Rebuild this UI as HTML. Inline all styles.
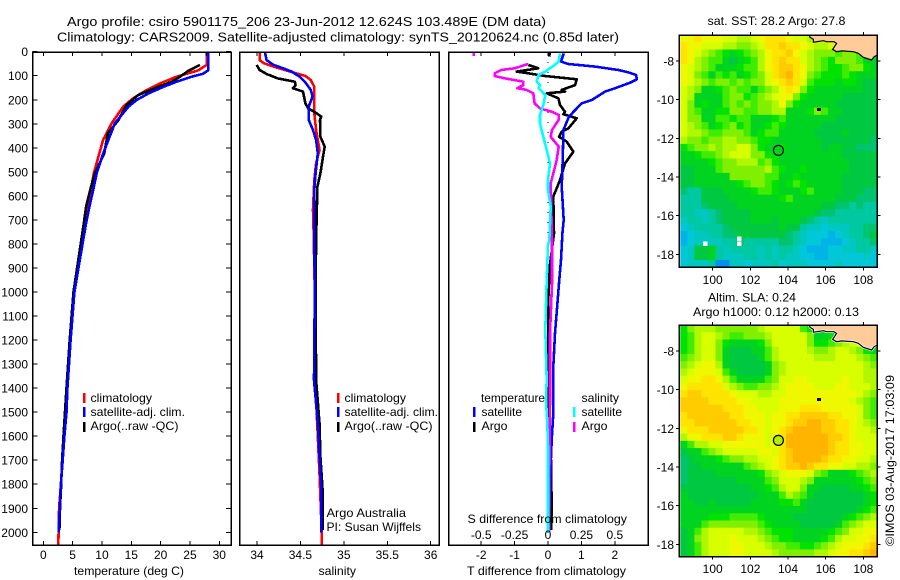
<!DOCTYPE html>
<html>
<head>
<meta charset="utf-8">
<title>Argo profile chart</title>
<style>
html,body{margin:0;padding:0;background:#fff;width:900px;height:580px;overflow:hidden}
svg{display:block}
text{font-family:"Liberation Sans",sans-serif;font-size:12px;fill:#000}
</style>
</head>
<body>
<svg id="chart" xmlns="http://www.w3.org/2000/svg" width="900" height="580" viewBox="0 0 900 580">
  <rect x="0" y="0" width="900" height="580" fill="#fff"/>
  <text x="67" y="26" textLength="479" lengthAdjust="spacingAndGlyphs" style="font-size:13px">Argo profile: csiro 5901175_206 23-Jun-2012 12.624S 103.489E (DM data)</text>
  <text x="57" y="41.5" textLength="562" lengthAdjust="spacingAndGlyphs" style="font-size:13px">Climatology: CARS2009. Satellite-adjusted climatology: synTS_20120624.nc (0.85d later)</text>

  <g id="mapA"></g>
  <g id="mapB"></g>
  <g id="p1"></g>
  <g id="p2"></g>
  <g id="p3"></g>

  <text x="74" y="575" textLength="110" lengthAdjust="spacingAndGlyphs">temperature (deg C)</text>
  <text x="318.5" y="575" textLength="37.5" lengthAdjust="spacingAndGlyphs">salinity</text>
  <text x="467" y="575" textLength="159" lengthAdjust="spacingAndGlyphs">T difference from climatology</text>
  <text x="467.5" y="523" textLength="159.5" lengthAdjust="spacingAndGlyphs">S difference from climatology</text>

  <g>
    <rect x="83" y="393" width="2.5" height="10" fill="#f00"/>
    <text x="90.5" y="402" textLength="61.5" lengthAdjust="spacingAndGlyphs">climatology</text>
    <rect x="83" y="407" width="2.5" height="10" fill="#00f"/>
    <text x="90.5" y="416" textLength="94.5" lengthAdjust="spacingAndGlyphs">satellite-adj. clim.</text>
    <rect x="83" y="422" width="2.5" height="10" fill="#000"/>
    <text x="90.5" y="430" textLength="88" lengthAdjust="spacingAndGlyphs">Argo(..raw -QC)</text>
  </g>
  <g>
    <rect x="337" y="393" width="2.5" height="10" fill="#f00"/>
    <text x="344.5" y="402" textLength="61.5" lengthAdjust="spacingAndGlyphs">climatology</text>
    <rect x="337" y="407" width="2.5" height="10" fill="#00f"/>
    <text x="344.5" y="416" textLength="93.5" lengthAdjust="spacingAndGlyphs">satellite-adj. clim.</text>
    <rect x="337" y="422" width="2.5" height="10" fill="#000"/>
    <text x="344.5" y="430" textLength="88" lengthAdjust="spacingAndGlyphs">Argo(..raw -QC)</text>
    <text x="326.5" y="517" textLength="79.5" lengthAdjust="spacingAndGlyphs">Argo Australia</text>
    <text x="326.5" y="531" textLength="94.5" lengthAdjust="spacingAndGlyphs">PI: Susan Wijffels</text>
  </g>
  <g>
    <text x="481" y="402" textLength="64" lengthAdjust="spacingAndGlyphs">temperature</text>
    <rect x="473" y="407" width="2.5" height="10" fill="#00f"/>
    <text x="481.5" y="416" textLength="40.5" lengthAdjust="spacingAndGlyphs">satellite</text>
    <rect x="473" y="422" width="2.5" height="10" fill="#000"/>
    <text x="481.5" y="430" textLength="26" lengthAdjust="spacingAndGlyphs">Argo</text>
    <text x="581.5" y="402" textLength="37.5" lengthAdjust="spacingAndGlyphs">salinity</text>
    <rect x="573" y="407" width="2.5" height="10" fill="#0ff"/>
    <text x="581.5" y="416" textLength="40.5" lengthAdjust="spacingAndGlyphs">satellite</text>
    <rect x="573" y="422" width="2.5" height="10" fill="#f0f"/>
    <text x="581.5" y="430" textLength="26" lengthAdjust="spacingAndGlyphs">Argo</text>
  </g>

  <text x="707.5" y="25" textLength="138" lengthAdjust="spacingAndGlyphs">sat. SST: 28.2 Argo: 27.8</text>
  <text x="708" y="301.5" textLength="88" lengthAdjust="spacingAndGlyphs">Altim. SLA: 0.24</text>
  <text x="693" y="316" textLength="166" lengthAdjust="spacingAndGlyphs">Argo h1000: 0.12 h2000: 0.13</text>
  <text transform="translate(894,546) rotate(-90)" x="0" y="0" textLength="171" lengthAdjust="spacingAndGlyphs">©IMOS 03-Aug-2017 17:03:09</text>
</svg>
<script>
// ---- tick values ----
const depthTicks = [0,100,200,300,400,500,600,700,800,900,1000,1100,1200,1300,1400,1500,1600,1700,1800,1900,2000];
const tempTicks = [0,5,10,15,20,25,30];
const salTicks = [34,34.5,35,35.5,36];
const salTickLabels = ["34","34.5","35","35.5","36"];
const diffTTicks = [-2,-1,0,1,2];
const diffSTicks = [-0.5,-0.25,0,0.25,0.5];
const diffSTickLabels = ["-0.5","-0.25","0","0.25","0.5"];
const lonTicks = [100,102,104,106,108];
const latTicks = [-8,-10,-12,-14,-16,-18];

// ---- temperature profiles ----
const tempClimDepth = [0,55,78,104,132,160,194,229,298,367,437,506,575,645,714,783,1000,1200,1400,1500,1600,1700,1800,1900,2000,2053];
const tempClimVal = [27.85,27.85,26.4,22.7,19.9,17.6,15.3,13.6,11.65,10.2,9.4,8.6,8.1,7.5,7.0,6.6,5.2,4.55,4.0,3.85,3.6,3.25,3.0,2.7,2.6,2.55];
const tempSatDepth = [0,78,92,104,125,146,174,201,229,298,367,437,506,575,645,714,783,1000,1200,1400,1500,1600,1700,1800,1900,2000];
const tempSatVal = [28.1,28.1,27.2,25.3,22.7,20.5,17.9,15.9,14.5,12.2,11.1,10,9.1,8.5,7.85,7.3,6.8,5.3,4.65,4.1,3.95,3.6,3.3,3.0,2.8,2.6];
const tempArgoDepth = [4,18,null,55,80,94,104,125,139,160,180,222,257,285,340,423,506,575,645,714,1000,1200,1400,1500,1600,1700,1800,1900,1990];
const tempArgoVal = [27.9,27.9,null,26.7,24.7,23.9,23.3,21.9,20.4,18.2,16.2,14.2,13.4,12.8,11.0,10.4,8.8,8,7.3,6.9,5.15,4.5,3.95,3.7,3.45,3.2,3.05,2.85,2.75];

// ---- salinity profiles ----
const salClimDepth = [0,35,48,62,76,90,101,118,146,201,256,326,409,464,534,659,728,1000,1366,1754,2000,2053];
const salClimVal = [34.03,34.03,34.08,34.19,34.32,34.45,34.56,34.62,34.66,34.66,34.66,34.68,34.72,34.68,34.66,34.645,34.65,34.665,34.67,34.72,34.745,34.745];
const salSatDepth = [0,35,55,69,83,104,125,159,187,229,284,326,367,423,506,576,784,1000,1366,1546,1685,1824,2000];
const salSatVal = [34.09,34.11,34.19,34.30,34.40,34.49,34.55,34.62,34.64,34.595,34.595,34.645,34.68,34.70,34.675,34.66,34.66,34.665,34.656,34.70,34.72,34.74,34.74];
const salArgoDepth = [55,76,93,111,125,139,152,166,215,236,250,270,284,354,395,437,506,562,784,1000,1366,1546,1685,1824,1990];
const salArgoVal = [33.995,34.03,34.11,34.24,34.435,34.445,34.415,34.53,34.557,34.59,34.66,34.74,34.725,34.73,34.78,34.76,34.73,34.695,34.68,34.675,34.68,34.72,34.73,34.755,34.755];

// ---- difference profiles ----
const dTSatDepth = [7,41,51,62,76,86,97,115,129,152,166,201,215,243,270,326,451,562,700,756,867,964,1033,1172,1311,1450,1505,1616,1685,2000];
const dTSatVal = [0.47,0.39,0.61,1.41,2.11,2.41,2.64,2.66,2.46,2.01,1.71,1.31,1.01,0.81,0.63,0.46,0.44,0.41,0.47,0.43,0.39,0.33,0.29,0.21,0.16,0.16,0.16,0.11,0.09,0.02];
const dTArgoDepth = [4,20,null,55,69,83,90,101,115,139,159,166,173,194,222,250,260,277,319,333,354,374,416,465,534,603,756,895,1033,1450,1700,1900,1990];
const dTArgoVal = [0.06,0.03,null,-0.59,-0.29,-0.94,-0.59,-0.09,0.86,0.81,0.41,0.51,-0.04,0.31,0.36,0.51,0.46,0.86,0.61,0.41,0.33,0.56,0.76,0.51,0.36,0.16,0.18,0.05,0.01,-0.01,0.09,0.11,0.09];
const dSArgoDepth = [4,18,null,51,69,76,90,101,111,125,139,152,159,173,215,236,250,263,284,326,354,395,451,506,548,784,964,1172,1450,1800,2000];
const dSArgoVal = [-0.555,-0.555,null,-0.15,-0.25,-0.35,-0.40,-0.40,-0.32,-0.185,-0.185,-0.23,-0.16,-0.11,-0.10,-0.06,0.03,0.08,0.08,0.03,0.02,0.08,0.065,0.04,0.02,0.03,0.03,0.015,0.015,0.01,0.008];
const dSSatDepth = [7,41,55,83,97,125,139,152,180,222,263,298,354,409,465,534,576,645,784,804,950,1158,1366,1450,1546,1642,2000];
const dSSatVal = [0.09,0.08,0.05,-0.02,-0.07,-0.085,-0.06,-0.07,-0.02,-0.035,-0.06,-0.06,-0.035,-0.01,0.015,0,0,0.02,0.01,0,-0.01,-0.02,-0.01,-0.015,-0.005,0,0];

// ---- map fields: one letter per grid cell, coded on the colour scale ----
const levelCodes = "abcdefghijklmnopq";
const levelColors = ["#0090f0","#00b4e8","#00c8d8","#00c8c0","#00c8a0","#00c470","#00c840","#00d420","#00e200","#40ec00","#80f000","#b0f800","#d8ff00","#f0f800","#ffe400","#ffcc00","#ffb400"];
const sstField = [
"nnonnnmmllmnooonmmlmmmmmmmmm",
"onnmmmllkklmoopoonmllmmmmmmm",
"onmlkjihijklnoopnmlkkkjkkjii",
"onlkjjhghijlnopoomlkjikkkjhh",
"nmlkjhhhijjlnopponlkjiijkkih",
"nmkjhjijhijkmopqonkjiiijihhh",
"nmlkjkkjkjkkmnopomjiiihiihgg",
"mlkhhijkjjhjklnonkihhhhhhhgg",
"mlhhhhjkkijklmnnkihhhhhggggg",
"mkhihhjkjkjkklnkihhhhhgggggg",
"mkjhhiikkjjkkllhhhikjhhggggg",
"mkkhhjjijjhhhijhhhhhhhgggggg",
"mlkjhijkijhhijihhhhhgggggggg",
"mllkjjkkkjhijjhhhhhgggghgggg",
"lkkjkkllkkjiihhhhhhhgggggggf",
"ijkklkllmmkihhihhhhhghhggfff",
"hhijjklmmmkkiihhhhhhhhhggggg",
"hhhhijkkllljkihhhhhhhhhhgggg",
"gghhhjkkkkkkljihhihhhhhhgggg",
"gghhhhhkkkkkjjhhihhhhhhggggg",
"gghhhhhhijkkjihijihhhhhggggg",
"feeggghhhhijjihhhijhhhhgggff",
"eeegggghhhhhhhijhhhhhhgggfff",
"eeefgggghhhhhhhhhhhhggffefee",
"eeddefgggghhhhhhhhhgffeeeeee",
"deedefgggghhhghhhgfedeeeeeee",
"cdeeeefggggggghggeddcdddeeff",
"bcddeeffgggggggfedcccbcdeefg",
"bcddddeefeeeeeffedccbbbcdeef",
"cdgghedeeeededeedcbbbccddeed",
"cdgghedddeedededdccbbcccccdc",
"cdddeaaddcdddecdddccccdccccc"
];
const slaField = [
"iklllkkkkkklmmmmmjihimmmmmmm",
"ijlmmlkjjkkklmmmmmkhhiklmmmm",
"ijlmmkihhhhikmmmmmkiijklmmkk",
"ijlmmkhggghhjlmmmmlkklmmlkih",
"jklmmkhgggghjlmmmmmlllmmmlkj",
"klmnnlhggggghklmmmmmmmmmmmlk",
"lmnnnmjhgggghklmmmmmmmmmmmll",
"mnnoonljhhhhjkmmnnmmmmmnmmll",
"nooooomlkjjkklmnnnnmmmnnmmml",
"oppoooonmmmllmmnnnnnnnnnnmlk",
"ppppoooonnmmmmnnnnnnnnnnmlkj",
"ppppppooonnmmmnnnooonnnnnmkj",
"oppppppoonnnmnnooppppoonnmkj",
"ooppppppoonnmnnoppqqppoonmlk",
"nooopppppoonmnopqqqqppoonmml",
"lnnooopponnnmnoqqqqqqpponmmm",
"hjllmmnnnnnnmnoqqqqqqpoonnmm",
"ghhjklmmmmmnnmopqqqqqpoonnmm",
"fghhhijkkllmmnopqqqqpoonnmml",
"fgghhhhhhjklmnoppqpoonnmmllk",
"fgggghhhhhhiklmnnnmkjhhhijkl",
"fggggggghhhhjkmmmlkhhhhhhijk",
"gggggggggghhijlmmkhhgggghhij",
"hgggggggggghhhjlkjhggggggghi",
"hhgghggggghhhhiijhgggggggghi",
"hhhhhhhhhhhhhhhhhhggggggghij",
"hhhhiiijjjjihhhhggggggghijkl",
"hhhjkkkkkkkjihhhhggggghjklmm",
"ghjlmmmmmllkjiiihhhhhijkmmnn",
"ghklmmmnmmmlkjiihhhhijlmmnno",
"ghjlmmmnnmmmlkkjjiijklmnnnop",
"ghjlmmmnnmmmmlkkkkkllmnnoopq"
];
const missingLon = [99.6,101.4,101.4];
const missingLat = [-17.45,-17.2,-17.45];
const coastLon = [105.13,105.17,105.35,105.35,105.88,106.05,106.44,106.58,106.37,106.58,106.85,107.47,107.73,108.0,108.44,108.57,108.74];
const coastLat = [-6.655,-6.78,-6.88,-7.03,-6.95,-7.0,-7.0,-7.09,-7.40,-7.52,-7.48,-7.52,-7.60,-7.81,-7.95,-7.78,-7.69];
const floatLon = [103.489];
const floatLat = [-12.624];
const islandLon = [105.65];
const islandLat = [-10.5];

// ---- axis functions ----
const yDepth = d => 51.7 + d * 0.2403;
const xTemp = t => 43.3 + t * 5.867;
const xSal = s => 257 + (s - 34) * 86.85;
const xDiffT = t => 548 + t * 33.4;
const xDiffS = s => 548 + s * 133.6;
const xLon = lon => 712.7 + (lon - 100) * 18.83;
const yLatA = lat => 61 - (lat + 8) * 19.33;
const yLatB = lat => 351 - (lat + 8) * 19.33;

const NS = "http://www.w3.org/2000/svg";
function mk(parent, tag, attrs) {
  const el = document.createElementNS(NS, tag);
  for (const k in attrs) el.setAttribute(k, attrs[k]);
  parent.appendChild(el);
  return el;
}
function frame(parent, x, y, w, h) {
  const el = mk(parent, "rect", {x:x, y:y, width:w, height:h, fill:"none", stroke:"#000", "stroke-width":1.5, "shape-rendering":"crispEdges"});
  
  
}
function tickLine(parent, x1, y1, x2, y2) {
  const el = mk(parent, "line", {x1:x1, y1:y1, x2:x2, y2:y2, stroke:"#000", "stroke-width":1, "shape-rendering":"crispEdges"});
  
  
}
function tickText(parent, x, y, str, anchor) {
  const el = mk(parent, "text", {x:x, y:y, "text-anchor":anchor});
  el.textContent = str;
  
  
}
function profile(parent, vals, depths, xf, color, name) {
  let d = "", pen = false;
  for (let i = 0; i < vals.length; i++) {
    if (vals[i] === null) { pen = false; continue; }
    d += (pen ? "L" : "M") + xf(vals[i]).toFixed(1) + " " + yDepth(depths[i]).toFixed(1);
    pen = true;
  }
  const el = mk(parent, "path", {d:d, fill:"none", stroke:color, "stroke-width":2.6, "stroke-linejoin":"round", "shape-rendering":"crispEdges"});
  
  
}

// ---- panel 1: temperature ----
const p1 = document.getElementById("p1");
profile(p1, tempClimVal, tempClimDepth, xTemp, "#f00", "temperature-climatology-line");
profile(p1, tempArgoVal, tempArgoDepth, xTemp, "#000", "temperature-argo-line");
profile(p1, tempSatVal, tempSatDepth, xTemp, "#00f", "temperature-satellite-line");
frame(p1, 32.5, 52, 198.5, 493);
depthTicks.forEach(d => {
  tickLine(p1, 32.5, yDepth(d), 37.5, yDepth(d));
  tickLine(p1, 226, yDepth(d), 231, yDepth(d));
  tickText(p1, 28, yDepth(d) + 4.5, String(d), "end");
});
tempTicks.forEach(t => {
  tickLine(p1, xTemp(t), 52, xTemp(t), 56);
  tickLine(p1, xTemp(t), 541, xTemp(t), 545);
  tickText(p1, xTemp(t), 559, String(t), "middle");
});

// ---- panel 2: salinity ----
const p2 = document.getElementById("p2");
profile(p2, salClimVal, salClimDepth, xSal, "#f00", "salinity-climatology-line");
profile(p2, salArgoVal, salArgoDepth, xSal, "#000", "salinity-argo-line");
profile(p2, salSatVal, salSatDepth, xSal, "#00f", "salinity-satellite-line");
frame(p2, 239.5, 52, 199.5, 493);
salTicks.forEach((s, i) => {
  tickLine(p2, xSal(s), 52, xSal(s), 56);
  tickLine(p2, xSal(s), 541, xSal(s), 545);
  tickText(p2, xSal(s), 559, salTickLabels[i], "middle");
});

// ---- panel 3: differences ----
const p3 = document.getElementById("p3");
const zeroLine = mk(p3, "line", {x1:xDiffT(0), y1:52, x2:xDiffT(0), y2:545, stroke:"#000", "stroke-width":1, "stroke-dasharray":"1 9", "shape-rendering":"crispEdges"});


profile(p3, dTArgoVal, dTArgoDepth, xDiffT, "#000", "t-difference-argo-line");
profile(p3, dTSatVal, dTSatDepth, xDiffT, "#00f", "t-difference-satellite-line");
profile(p3, dSArgoVal, dSArgoDepth, xDiffS, "#f0f", "s-difference-argo-line");
profile(p3, dSSatVal, dSSatDepth, xDiffS, "#0ff", "s-difference-satellite-line");
frame(p3, 448.5, 52, 199.5, 493);
diffTTicks.forEach(t => {
  tickLine(p3, xDiffT(t), 52, xDiffT(t), 56);
  tickLine(p3, xDiffT(t), 541, xDiffT(t), 545);
  tickText(p3, xDiffT(t), 559, String(t), "middle");
});
diffSTicks.forEach((s, i) => {
  tickText(p3, xDiffS(s), 539, diffSTickLabels[i], "middle");
});

// ---- maps ----
function drawMap(id, field, yLat, top, bottom, floatFill, withMissing, coastHalo) {
  const g = document.getElementById(id);
  const left = 680.3, right = 877.3;
  const rows = field.length, cols = field[0].length;
  const cw = (right - left) / cols, ch = (bottom - top) / rows;
  field.forEach((row, r) => {
    for (let c = 0; c < cols; c++) {
      const lev = levelCodes.indexOf(row[c]);
      const cell = mk(g, "rect", {x:(left + c * cw).toFixed(2), y:(top + r * ch).toFixed(2), width:(cw + 0.6).toFixed(2), height:(ch + 0.6).toFixed(2), fill:levelColors[lev]});
      
      
    }
  });
  if (withMissing) {
    missingLon.forEach((lon, i) => {
      const m = mk(g, "rect", {x:xLon(lon) - 2.3, y:yLat(missingLat[i]) - 2.4, width:4.7, height:4.8, fill:"#fff", "shape-rendering":"crispEdges"});
      
      
    });
  }
  const pts = coastLon.map((lon, i) => xLon(lon).toFixed(1) + "," + yLat(coastLat[i]).toFixed(1));
  const land = mk(g, "polygon", {points: pts.join(" ") + " " + right + "," + top, fill:"#ffcc99"});
  
  
  if (coastHalo) {
    const halo = mk(g, "polyline", {points: pts.join(" "), fill:"none", stroke:"#fff", "stroke-width":2.5});
    
    
  }
  const coast = mk(g, "polyline", {points: pts.join(" "), fill:"none", stroke:"#000", "stroke-width":1.2});
  
  
  islandLon.forEach((lon, i) => {
    const isl = mk(g, "rect", {x:xLon(lon) - 2, y:yLat(islandLat[i]) - 1.5, width:4, height:3, fill:"#000", "shape-rendering":"crispEdges"});
    
    
  });
  floatLon.forEach((lon, i) => {
    const circ = mk(g, "circle", {cx:xLon(lon), cy:yLat(floatLat[i]), r:5, fill:floatFill, stroke:"#000", "stroke-width":1.2});
    
    
  });
  frame(g, 679.3, top, 198, bottom - top);
  lonTicks.forEach(lon => {
    tickLine(g, xLon(lon), top - 3, xLon(lon), top);
    tickLine(g, xLon(lon), bottom, xLon(lon), bottom + 3);
    tickText(g, xLon(lon), bottom + 16.5, String(lon), "middle");
  });
  latTicks.forEach(lat => {
    tickLine(g, 676, yLat(lat), 679.3, yLat(lat));
    tickLine(g, 877.3, yLat(lat), 880.5, yLat(lat));
    tickText(g, 674, yLat(lat) + 4.5, String(lat), "end");
  });
}
drawMap("mapA", sstField, yLatA, 35, 267.3, "#00d420", true, false);
drawMap("mapB", slaField, yLatB, 325, 556.7, "#b0f000", false, true);
</script>
</body>
</html>
